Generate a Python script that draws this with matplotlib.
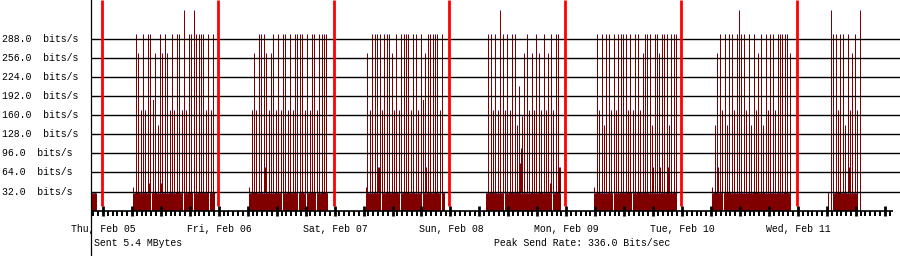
import matplotlib
matplotlib.use('Agg')
import matplotlib.pyplot as plt
from matplotlib.lines import Line2D
from matplotlib.transforms import blended_transform_factory
from datetime import datetime, timedelta

plt.rcParams['font.family'] = ['Liberation Mono', 'DejaVu Sans Mono']

# time axis: hours from Thu, Feb 05 00:00, one sample ~ 12.4 min
start = datetime(2015, 2, 5)
sample_h = 24 / 115.83
x_min, x_max = -2.28, 165.35
data_end = 163.3

day_labels = [(start + timedelta(days=i)).strftime('%a, %b %d') for i in range(7)]
grid_vals = [32, 64, 96, 128, 160, 192, 224, 256, 288]

# half-hourly spikes (bits/s); day index -1 = Wed 04 evening
spike_days = [-1, 0, 1, 2, 3, 4, 5, 6]
spike_first_slot = [-4, 14, 14, 14, 16, 13, 14, 14]
spike_vals = [
    [168, 296],
    [296, 264, 168, 296, 168, 296, 296, 186, 264, 144, 296, 264, 296, 264, 168, 296, 168,
     296, 296, 168, 336, 168, 296, 296, 336, 296, 296, 296, 296, 168, 296, 168, 296],
    [168, 264, 168, 296, 296, 296, 264, 168, 264, 296, 168, 296, 168, 296, 296, 168, 296,
     168, 296, 296, 296, 296, 168, 296, 168, 296, 296, 168, 296, 296, 296, 296],
    [264, 168, 296, 296, 296, 296, 168, 296, 296, 296, 264, 168, 296, 168, 296, 296, 296,
     296, 168, 296, 296, 168, 296, 186, 264, 296, 296, 296, 296, 296, 168, 296],
    [296, 296, 168, 296, 168, 336, 296, 168, 296, 168, 296, 296, 144, 208, 158, 264, 296,
     168, 264, 168, 296, 264, 168, 296, 168, 264, 296, 168, 296, 296],
    [296, 168, 296, 144, 296, 296, 168, 296, 168, 296, 296, 296, 296, 168, 296, 168, 296,
     296, 168, 264, 296, 296, 296, 144, 296, 296, 264, 296, 296, 296, 144, 296, 296, 296],
    [144, 264, 296, 168, 296, 144, 296, 296, 168, 296, 336, 296, 296, 168, 296, 144, 296,
     168, 264, 296, 144, 296, 168, 296, 296, 168, 296, 296, 296, 296, 296, 264],
    [336, 296, 296, 168, 296, 296, 144, 296, 168, 264, 296, 168, 336],
]

# background traffic level and when it was on
base_level = 30
base_spans = [(-2.2, -1.0), (6.4, 23.55), (30.42, 47.06), (54.63, 71.0), (79.52, 95.06),
              (102.0, 119.2), (126.42, 142.58), (150.4, 150.6), (151.45, 156.6)]
base_gaps = [9.47, 10.2, 16.85, 18.92, 22.23, 23.35,
             37.26, 39.89, 40.64, 42.29, 44.3, 46.85,
             57.8, 61.74, 66.3, 70.17,
             80.97, 82.42, 83.25, 93.34,
             102.9, 105.8, 109.74, 117.2,
             128.76, 132.08]

# short periods slightly above base
bump_start = [6.4, 9.6, 12.08, 30.42, 33.6, 54.63, 54.84, 57.18, 67.0, 86.5, 86.75, 92.86,
              94.65, 102.0, 112.0, 114.09, 114.9, 115.5, 117.3, 126.42, 127.5, 154.84]
bump_end = [6.62, 10.1, 12.5, 30.64, 34.05, 54.84, 55.19, 57.6, 67.4, 86.75, 87.2, 93.2,
            95.06, 102.22, 112.4, 114.3, 115.1, 115.9, 117.5, 126.64, 127.9, 155.05]
bump_vals = [40, 47, 47, 40, 73, 40, 73, 73, 73, 80, 105, 47,
             73, 40, 73, 73, 73, 73, 73, 40, 73, 73]

sent_text = 'Sent 5.4 MBytes'
peak_text = 'Peak Send Rate: 336.0 Bits/sec'

area_col = '#800000'
cap_col = '#8080ff'
cap_h = 1.6

fig = plt.figure(figsize=(9, 2.56), dpi=100)
ax = fig.add_axes([91 / 900, (256 - 216.5) / 256, 809 / 900, 216.5 / 256])
ax.set_xlim(x_min, x_max)
ax.set_ylim(-9.7, 352.5)
ax.axis('off')

# base area split at the empty samples
for s, e in base_spans:
    cuts = [g for g in base_gaps if s < g < e]
    cur = s
    for g in cuts + [e]:
        ax.bar(cur, base_level, width=g - cur, align='edge', color=area_col,
               linewidth=0, antialiased=False, zorder=1)
        ax.hlines(base_level, cur, g, color=cap_col, lw=0.8,
                  linestyles=(0, (1, 1)), zorder=2)
        cur = g + sample_h

for s, e, v in zip(bump_start, bump_end, bump_vals):
    ax.bar(s, v, width=e - s, align='edge', color=area_col, linewidth=0,
           antialiased=False, zorder=1)
    ax.bar(s, cap_h, bottom=v - cap_h, width=e - s, align='edge', color=cap_col,
           linewidth=0, antialiased=False, zorder=2)

for d, first, vals in zip(spike_days, spike_first_slot, spike_vals):
    xs = [d * 24 + (first + i) * 0.5 for i in range(len(vals))]
    ax.bar(xs, vals, width=sample_h, align='edge', color=area_col, linewidth=0,
           antialiased=False, zorder=3)
    ax.bar(xs, [cap_h] * len(vals), bottom=[v - cap_h for v in vals], width=sample_h,
           align='edge', color=cap_col, linewidth=0, antialiased=False, zorder=4)

# grid
ax.hlines(grid_vals, x_min, x_max, color='black', lw=1.0, zorder=5)
ax.hlines(0, x_min, data_end + 0.5, color='black', lw=1.2, zorder=6)

# midnight markers
midnights = [24 * i for i in range(7)]
ax.vlines(midnights, 7.9, 352.5, color='#ff0000', lw=2.0, zorder=6)

# hour ticks, taller every 6 hours
hours = list(range(-2, 164))
minor = [h for h in hours if h % 6 != 0]
major = [h for h in hours if h % 6 == 0]
ax.vlines([h + 0.2 for h in minor], -9.5, 0, color='black', lw=1.4, zorder=6)
ax.vlines([h + 0.2 for h in major], -9.5, 7.9, color='black', lw=2.0, zorder=7)

# y labels
ytr = blended_transform_factory(fig.transFigure, ax.transData)
for v in grid_vals:
    ax.text(2.5 / 900, v, f'{v:.1f}  bits/s', transform=ytr, ha='left', va='center',
            fontsize=7.15, color='black')

# day labels
lab_y = 1 - 228.5 / 256
xtr = blended_transform_factory(ax.transData, fig.transFigure)
for m, lab in zip(midnights, day_labels):
    ax.text(m + 0.3, lab_y, lab, transform=xtr, ha='center', va='center',
            fontsize=7.15, color='black')

fig.text(94.5 / 900, 1 - 243.5 / 256, sent_text, ha='left', va='center',
         fontsize=7.15, color='black')
fig.text(494.5 / 900, 1 - 243.5 / 256, peak_text, ha='left', va='center',
         fontsize=7.15, color='black')

# full height left rule
fig.add_artist(Line2D([90.5 / 900] * 2, [0, 1], transform=fig.transFigure,
                      color='black', lw=0.9))

fig.savefig('out.png', dpi=100)
